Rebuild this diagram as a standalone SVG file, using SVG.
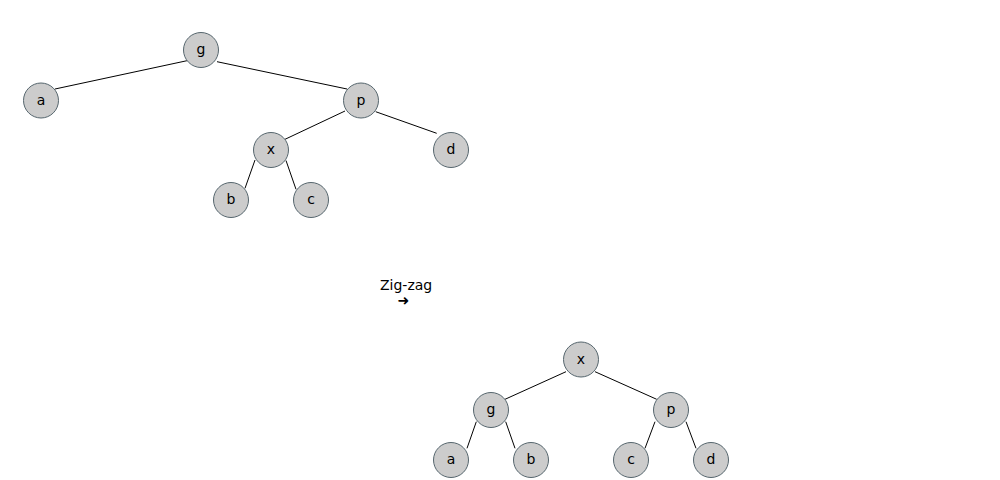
<svg xmlns="http://www.w3.org/2000/svg" width="1000" height="480" viewBox="0 0 1000 480">
<style>
.n circle{fill:#cccccc;stroke:#56666e;stroke-width:1}
.n text{font-family:"DejaVu Sans",sans-serif;font-size:14px;fill:#000;text-anchor:middle}
.e line{stroke:#000;stroke-width:1}
.t{font-family:"DejaVu Sans",sans-serif;font-size:14px;fill:#000}
</style>
<rect width="1000" height="480" fill="#fff"/>
<g class="e" id="connectors">
<line x1="187" y1="60.7" x2="55" y2="89"/>
<line x1="217" y1="61.7" x2="347" y2="89"/>
<line x1="345" y1="111" x2="285" y2="139.3"/>
<line x1="375.7" y1="111.7" x2="436.7" y2="133.3"/>
<line x1="255" y1="160" x2="245" y2="188.3"/>
<line x1="286" y1="160.5" x2="296" y2="189.3"/>
<line x1="566" y1="371.7" x2="505" y2="399.3"/>
<line x1="595" y1="371.7" x2="656.7" y2="399.3"/>
<line x1="476.3" y1="421.7" x2="467" y2="448.3"/>
<line x1="505.7" y1="421.7" x2="515" y2="448.3"/>
<line x1="655" y1="421.7" x2="645" y2="448.3"/>
<line x1="686" y1="421.7" x2="696" y2="448.3"/>
</g>
<g class="n" id="n-g1"><circle cx="201" cy="50" r="17.5"/><text x="201" y="54">g</text></g>
<g class="n" id="n-a1"><circle cx="41" cy="100.5" r="17.5"/><text x="41" y="104.5">a</text></g>
<g class="n" id="n-p1"><circle cx="361" cy="100.5" r="17.5"/><text x="361" y="104.5">p</text></g>
<g class="n" id="n-x1"><circle cx="271" cy="150" r="17.5"/><text x="271" y="154">x</text></g>
<g class="n" id="n-d1"><circle cx="451" cy="150" r="17.5"/><text x="451" y="154">d</text></g>
<g class="n" id="n-b1"><circle cx="231" cy="200" r="17.5"/><text x="231" y="204">b</text></g>
<g class="n" id="n-c1"><circle cx="311" cy="200" r="17.5"/><text x="311" y="204">c</text></g>
<g class="n" id="n-x2"><circle cx="581" cy="359.5" r="17.5"/><text x="581" y="363.5">x</text></g>
<g class="n" id="n-g2"><circle cx="491" cy="410" r="17.5"/><text x="491" y="414">g</text></g>
<g class="n" id="n-p2"><circle cx="671" cy="410" r="17.5"/><text x="671" y="414">p</text></g>
<g class="n" id="n-a2"><circle cx="451" cy="460" r="17.5"/><text x="451" y="464">a</text></g>
<g class="n" id="n-b2"><circle cx="531" cy="460" r="17.5"/><text x="531" y="464">b</text></g>
<g class="n" id="n-c2"><circle cx="631" cy="460" r="17.5"/><text x="631" y="464">c</text></g>
<g class="n" id="n-d2"><circle cx="711" cy="460" r="17.5"/><text x="711" y="464">d</text></g>
<g id="label"><text class="t" x="380" y="290">Zig-zag</text><text class="t" x="397.5" y="304.5" font-size="11">➜</text></g>
</svg>
